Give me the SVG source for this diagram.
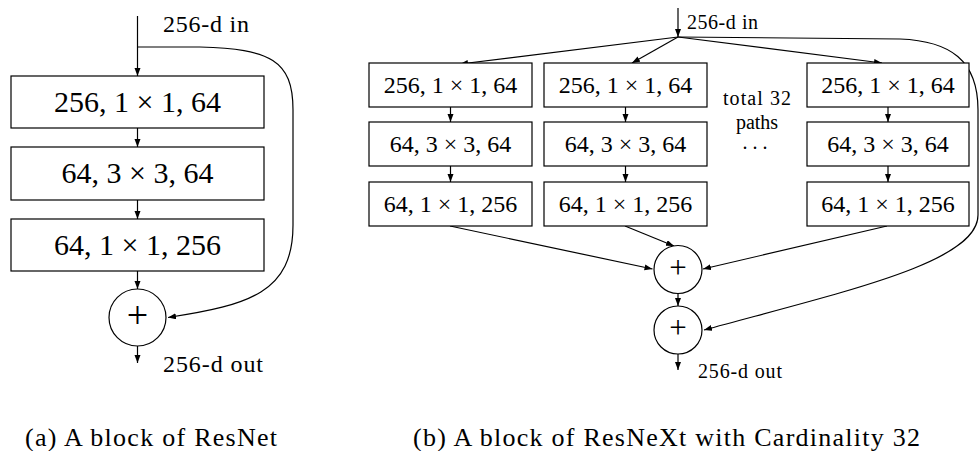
<svg xmlns="http://www.w3.org/2000/svg" width="980" height="451" viewBox="0 0 980 451">
<defs>
<marker id="ah" markerUnits="userSpaceOnUse" markerWidth="10" markerHeight="8" refX="8" refY="3" orient="auto">
<path d="M0,0 L8,3 L0,6 z" fill="#000"/>
</marker>
<style>
.box{fill:#fff;stroke:#000;stroke-width:1.2}
.ln{fill:none;stroke:#000;stroke-width:1.2;marker-end:url(#ah)}
.t{font-family:"Liberation Serif","DejaVu Serif",serif;fill:#000}
.ba{font-size:30px;text-anchor:middle}
.bb{font-size:24px;text-anchor:middle}
.lab{font-size:24px}
.labb{font-size:20px}
.cap{font-size:26px}
</style>
</defs>
<rect width="980" height="451" fill="#fff"/>

<g id="connectors">
<!-- (a) -->
<line class="ln" x1="137.5" y1="16" x2="137.5" y2="76"/>
<line class="ln" x1="137.5" y1="128" x2="137.5" y2="147"/>
<line class="ln" x1="137.5" y1="200" x2="137.5" y2="219"/>
<line class="ln" x1="137.5" y1="271" x2="137.5" y2="289"/>
<line class="ln" x1="137.5" y1="346" x2="137.5" y2="363"/>
<path class="ln" d="M137.5,47 L200,47 C270,49 293,60 293,110 L293,225 C293,292 250,305 168,317.5"/>
<!-- (b) -->
<line class="ln" x1="678" y1="8" x2="678" y2="37"/>
<line class="ln" x1="678" y1="37" x2="460" y2="64"/>
<line class="ln" x1="678" y1="37" x2="632" y2="63"/>
<line class="ln" x1="678" y1="37" x2="882" y2="63"/>
<line class="ln" x1="450.5" y1="107" x2="450.5" y2="122"/>
<line class="ln" x1="450.5" y1="166" x2="450.5" y2="182"/>
<line class="ln" x1="625.5" y1="107" x2="625.5" y2="122"/>
<line class="ln" x1="625.5" y1="166" x2="625.5" y2="182"/>
<line class="ln" x1="888" y1="107" x2="888" y2="122"/>
<line class="ln" x1="888" y1="166" x2="888" y2="182"/>
<line class="ln" x1="450" y1="226" x2="652.5" y2="269"/>
<line class="ln" x1="625" y1="226" x2="674" y2="246"/>
<line class="ln" x1="887" y1="226" x2="703" y2="269"/>
<line class="ln" x1="678" y1="293.5" x2="678" y2="306"/>
<line class="ln" x1="678" y1="354" x2="678" y2="370"/>
<path class="ln" d="M678,37 L900,39 C950,41 978,60 978,110 L978,215 C978,262 850,290 704,330"/>
</g>

<g id="a-box1"><rect class="box" x="11" y="76" width="253" height="52"/><text class="t ba" x="137.5" y="112">256, 1 × 1, 64</text></g>
<g id="a-box2"><rect class="box" x="11" y="147" width="253" height="53"/><text class="t ba" x="137.5" y="183">64, 3 × 3, 64</text></g>
<g id="a-box3"><rect class="box" x="11" y="219" width="253" height="52"/><text class="t ba" x="137.5" y="255">64, 1 × 1, 256</text></g>
<g id="a-sum"><circle class="box" cx="137.5" cy="317.5" r="28.5"/><text class="t" x="137.5" y="327.5" font-size="38" text-anchor="middle">+</text></g>
<g id="a-in"><text class="t lab" x="163" y="32" textLength="86">256-d in</text></g>
<g id="a-out"><text class="t lab" x="163" y="372" textLength="100">256-d out</text></g>

<g id="b-p1-1"><rect class="box" x="369" y="63" width="163" height="44"/><text class="t bb" x="450.5" y="93">256, 1 × 1, 64</text></g>
<g id="b-p1-2"><rect class="box" x="369" y="122" width="163" height="44"/><text class="t bb" x="450.5" y="152">64, 3 × 3, 64</text></g>
<g id="b-p1-3"><rect class="box" x="369" y="182" width="163" height="44"/><text class="t bb" x="450.5" y="212">64, 1 × 1, 256</text></g>
<g id="b-p2-1"><rect class="box" x="544" y="63" width="163" height="44"/><text class="t bb" x="625.5" y="93">256, 1 × 1, 64</text></g>
<g id="b-p2-2"><rect class="box" x="544" y="122" width="163" height="44"/><text class="t bb" x="625.5" y="152">64, 3 × 3, 64</text></g>
<g id="b-p2-3"><rect class="box" x="544" y="182" width="163" height="44"/><text class="t bb" x="625.5" y="212">64, 1 × 1, 256</text></g>
<g id="b-p32-1"><rect class="box" x="807" y="63" width="162" height="44"/><text class="t bb" x="888" y="93">256, 1 × 1, 64</text></g>
<g id="b-p32-2"><rect class="box" x="807" y="122" width="162" height="44"/><text class="t bb" x="888" y="152">64, 3 × 3, 64</text></g>
<g id="b-p32-3"><rect class="box" x="807" y="182" width="162" height="44"/><text class="t bb" x="888" y="212">64, 1 × 1, 256</text></g>
<g id="b-sum1"><circle class="box" cx="678" cy="269.5" r="24"/><text class="t" x="678" y="277.5" font-size="31" text-anchor="middle">+</text></g>
<g id="b-sum2"><circle class="box" cx="678" cy="330" r="24"/><text class="t" x="678" y="338" font-size="31" text-anchor="middle">+</text></g>
<g id="b-in"><text class="t labb" x="687" y="29" textLength="71">256-d in</text></g>
<g id="b-out"><text class="t labb" x="698" y="378" textLength="84">256-d out</text></g>
<g id="b-note"><text class="t labb" text-anchor="middle" x="757" y="105" textLength="68">total 32</text><text class="t labb" text-anchor="middle" x="757" y="129">paths</text><text class="t labb" text-anchor="middle" x="755" y="149">. . .</text></g>

<text class="t cap" x="25" y="446" textLength="252">(a) A block of ResNet</text>
<text class="t cap" x="413" y="446" textLength="507">(b) A block of ResNeXt with Cardinality 32</text>
</svg>
